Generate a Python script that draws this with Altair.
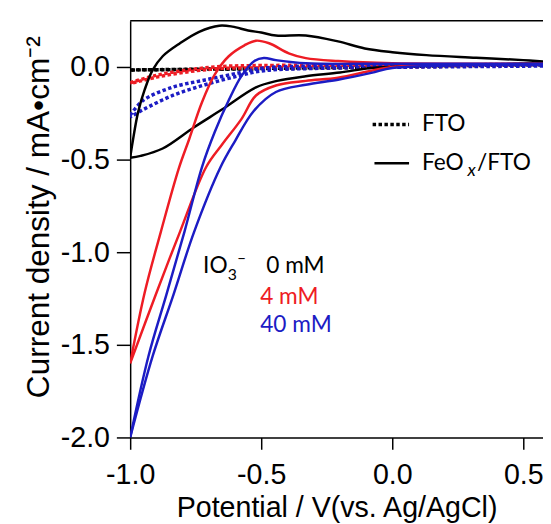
import altair as alt
import pandas as pd

# ---------------- data ----------------
# FTO electrode (dotted)  -- cathodic (forward) and anodic (reverse) branches
fto0_fwd_v = [0.575, 0.3, 0.0, -0.5, -1.0]
fto0_fwd_j = [0.01, 0.008, 0.0, -0.01, -0.016]
fto0_rev_v = [-1.0, -0.5, 0.0, 0.3, 0.575]
fto0_rev_j = [-0.016, -0.008, 0.002, 0.008, 0.012]

fto4_fwd_v = [0.575, 0.0, -0.5, -0.65, -0.775, -0.9, -1.0]
fto4_fwd_j = [0.01, 0.0, -0.005, -0.008, -0.025, -0.055, -0.09]
fto4_rev_v = [-1.0, -0.9, -0.775, -0.65, -0.5, 0.0, 0.575]
fto4_rev_j = [-0.085, -0.045, -0.015, 0.003, 0.008, 0.01, 0.015]

fto40_fwd_v = [0.575, 0.0, -0.3, -0.49, -0.586, -0.714, -0.84, -0.95, -1.0]
fto40_fwd_j = [0.005, -0.002, -0.008, -0.02, -0.048, -0.096, -0.155, -0.23, -0.27]
fto40_rev_v = [-1.0, -0.95, -0.84, -0.714, -0.586, -0.49, -0.3, 0.0, 0.575]
fto40_rev_j = [-0.26, -0.18, -0.11, -0.07, -0.032, -0.005, 0.005, 0.008, 0.012]

# FeOx/FTO electrode (solid)
feo0_fwd_v = [0.575, 0.4, 0.2, 0.0, -0.08, -0.2, -0.33, -0.44, -0.52, -0.65, -0.756, -0.876, -0.96, -1.0]
feo0_fwd_j = [0.02, 0.015, 0.01, 0.0, -0.005, -0.03, -0.05, -0.075, -0.11, -0.23, -0.325, -0.44, -0.48, -0.49]
feo0_rev_v = [-1.0, -0.99, -0.97, -0.944, -0.914, -0.876, -0.81, -0.737, -0.66, -0.61, -0.55, -0.5,
              -0.444, -0.33, -0.207, -0.105, 0.0, 0.13, 0.32, 0.5, 0.575]
feo0_rev_j = [-0.49, -0.4, -0.245, -0.12, -0.016, 0.058, 0.128, 0.19, 0.223, 0.218, 0.197, 0.186,
              0.17, 0.17, 0.138, 0.10, 0.08, 0.064, 0.05, 0.037, 0.03]

feo4_fwd_v = [0.575, 0.3, 0.1, 0.0, -0.08, -0.207, -0.33, -0.444, -0.52, -0.575, -0.65, -0.71, -0.81, -0.9, -1.0]
feo4_fwd_j = [0.015, 0.012, 0.008, 0.0, -0.02, -0.058, -0.075, -0.10, -0.154, -0.28, -0.42, -0.54, -0.89, -1.22, -1.6]
feo4_rev_v = [-1.0, -0.945, -0.883, -0.815, -0.775, -0.726, -0.677, -0.624, -0.564, -0.52, -0.47,
              -0.395, -0.33, -0.207, 0.0, 0.3, 0.575]
feo4_rev_j = [-1.6, -1.22, -0.89, -0.55, -0.39, -0.19, -0.04, 0.058, 0.117, 0.142, 0.128,
              0.074, 0.048, 0.032, 0.02, 0.018, 0.018]

feo40_fwd_v = [0.575, 0.3, 0.0, -0.08, -0.207, -0.33, -0.444, -0.53, -0.6, -0.655, -0.756, -0.835, -0.914, -1.0]
feo40_fwd_j = [0.012, 0.01, -0.005, -0.032, -0.069, -0.096, -0.135, -0.24, -0.40, -0.54, -0.89, -1.23, -1.56, -2.0]
feo40_rev_v = [-1.0, -0.93, -0.862, -0.793, -0.726, -0.677, -0.624, -0.575, -0.526, -0.49, -0.444,
               -0.33, 0.0, 0.3, 0.575]
feo40_rev_j = [-2.0, -1.56, -1.23, -0.89, -0.54, -0.35, -0.18, -0.048, 0.032, 0.048, 0.037,
               0.02, 0.018, 0.018, 0.018]

concs = ["0 mM", "4 mM", "40 mM"]
colors = ["#000000", "#ee1c24", "#1c1cc4"]
x_ticks = [-1.0, -0.5, 0.0, 0.5]
y_ticks = [-2.0, -1.5, -1.0, -0.5, 0.0]
x_domain = [-1.0, 0.575]
y_domain = [-2.0, 0.25]

branches = [
    ("FTO", "0 mM", "fwd", fto0_fwd_v, fto0_fwd_j),
    ("FTO", "0 mM", "rev", fto0_rev_v, fto0_rev_j),
    ("FTO", "4 mM", "fwd", fto4_fwd_v, fto4_fwd_j),
    ("FTO", "4 mM", "rev", fto4_rev_v, fto4_rev_j),
    ("FTO", "40 mM", "fwd", fto40_fwd_v, fto40_fwd_j),
    ("FTO", "40 mM", "rev", fto40_rev_v, fto40_rev_j),
    ("FeOx", "0 mM", "fwd", feo0_fwd_v, feo0_fwd_j),
    ("FeOx", "0 mM", "rev", feo0_rev_v, feo0_rev_j),
    ("FeOx", "4 mM", "fwd", feo4_fwd_v, feo4_fwd_j),
    ("FeOx", "4 mM", "rev", feo4_rev_v, feo4_rev_j),
    ("FeOx", "40 mM", "fwd", feo40_fwd_v, feo40_fwd_j),
    ("FeOx", "40 mM", "rev", feo40_rev_v, feo40_rev_j),
]
rows = []
for el, c, br, vs, js in branches:
    for i, (v, j) in enumerate(zip(vs, js)):
        rows.append({"electrode": el, "conc": c, "branch": f"{el}-{c}-{br}", "i": i, "V": v, "J": j})
df = pd.DataFrame(rows)

# ---------------- chart ----------------
FONT = "Liberation Sans"
ANN_FONT = "Lato"
lab_expr = "(datum.value < 0 ? '-' : '') + format(abs(datum.value), '.1f')"

x_scale = alt.Scale(domain=x_domain, nice=False, zero=False)
y_scale = alt.Scale(domain=y_domain, nice=False, zero=False)
color_scale = alt.Scale(domain=concs, range=colors)

x_axis = alt.Axis(values=x_ticks, labelExpr=lab_expr, title="Potential / V(vs. Ag/AgCl)",
                  grid=False, tickSize=12, labelPadding=12, titlePadding=4,
                  labelFontSize=29, titleFontSize=29, labelFont=FONT, titleFont=FONT,
                  titleFontWeight="normal", labelFlush=False, labelOverlap=False,
                  domainColor="black", tickColor="black", labelColor="black", titleColor="black",
                  domainWidth=1.5, tickWidth=1.5)
y_axis = alt.Axis(values=y_ticks, labelExpr=lab_expr, title="Current density / mA\u2022cm\u207b\u00b2",
                  grid=False, tickSize=14, labelPadding=7,
                  labelFontSize=29, titleFontSize=32, labelFont=FONT, titleFont=FONT,
                  titleFontWeight="normal", labelOverlap=False,
                  titleX=-76, titleY=199, titleAngle=-90, titleAlign="center", titleBaseline="bottom",
                  domainColor="black", tickColor="black", labelColor="black", titleColor="black",
                  domainWidth=1.5, tickWidth=1.5)

base = alt.Chart(df)
dotted = base.transform_filter(alt.datum.electrode == "FTO").mark_line(
    strokeDash=[3.5, 2.5], strokeWidth=3.5, interpolate="catmull-rom", clip=True
).encode(
    x=alt.X("V:Q", scale=x_scale, axis=x_axis),
    y=alt.Y("J:Q", scale=y_scale, axis=y_axis),
    color=alt.Color("conc:N", scale=color_scale, legend=None),
    detail="branch:N",
    order="i:Q",
)
solid = base.transform_filter(alt.datum.electrode == "FeOx").mark_line(
    strokeWidth=2.5, interpolate="catmull-rom", clip=True
).encode(
    x=alt.X("V:Q", scale=x_scale),
    y=alt.Y("J:Q", scale=y_scale),
    color=alt.Color("conc:N", scale=color_scale, legend=None),
    detail="branch:N",
    order="i:Q",
)

# top frame line
frame = alt.Chart(pd.DataFrame({"V": [x_domain[0]], "V2": [x_domain[1]], "J": [y_domain[1]]})).mark_rule(
    color="black", strokeWidth=1.5
).encode(x=alt.X("V:Q", scale=x_scale), x2="V2:Q", y=alt.Y("J:Q", scale=y_scale))

# legend (line style)
leg_lines = pd.DataFrame({"V": [-0.075, -0.068], "V2": [0.064, 0.064], "J": [-0.31, -0.52],
                          "k": ["FTO", "FeOx"]})
leg_dot = alt.Chart(leg_lines[leg_lines.k == "FTO"]).mark_rule(
    color="black", strokeWidth=3.5, strokeDash=[3.5, 2.5]
).encode(x=alt.X("V:Q", scale=x_scale), x2="V2:Q", y=alt.Y("J:Q", scale=y_scale))
leg_sol = alt.Chart(leg_lines[leg_lines.k == "FeOx"]).mark_rule(
    color="black", strokeWidth=2.5
).encode(x=alt.X("V:Q", scale=x_scale), x2="V2:Q", y=alt.Y("J:Q", scale=y_scale))


def txt(df_, size, baseline="alphabetic", style="normal"):
    return alt.Chart(df_).mark_text(
        align="left", baseline=baseline, font=ANN_FONT, fontSize=size, fontStyle=style
    ).encode(
        x=alt.X("V:Q", scale=x_scale), y=alt.Y("J:Q", scale=y_scale),
        text="t:N", color=alt.Color("c:N", scale=None),
    )


leg_text = txt(pd.DataFrame({"V": [0.113, 0.113, 0.323], "J": [-0.31, -0.52, -0.52],
                             "t": ["FTO", "FeO", "/FTO"], "c": ["black"] * 3}), 23, "middle")
leg_x = txt(pd.DataFrame({"V": [0.287], "J": [-0.56], "t": ["x"], "c": ["black"]}), 18, "middle", "italic")

ann_main = txt(pd.DataFrame({"V": [-0.722, -0.481, -0.504, -0.504], "J": [-1.112, -1.112, -1.279, -1.431],
                             "t": ["IO", "0 mM", "4 mM", "40 mM"], "c": ["black", "black", colors[1], colors[2]]}), 23)
ann_sub = txt(pd.DataFrame({"V": [-0.628], "J": [-1.148], "t": ["3"], "c": ["black"]}), 16)
ann_sup = txt(pd.DataFrame({"V": [-0.592], "J": [-1.03], "t": ["\u2013"], "c": ["black"]}), 16, "middle")

chart = alt.layer(dotted, solid, frame, leg_dot, leg_sol, leg_text, leg_x, ann_main, ann_sub, ann_sup).properties(
    width=419, height=423,
    autosize=alt.AutoSizeParams(type="none"),
    padding={"left": 124, "top": 9, "right": 0, "bottom": 85},
).configure_view(stroke=None)

chart.save("out.html", embed_options={"renderer": "svg", "actions": False})
